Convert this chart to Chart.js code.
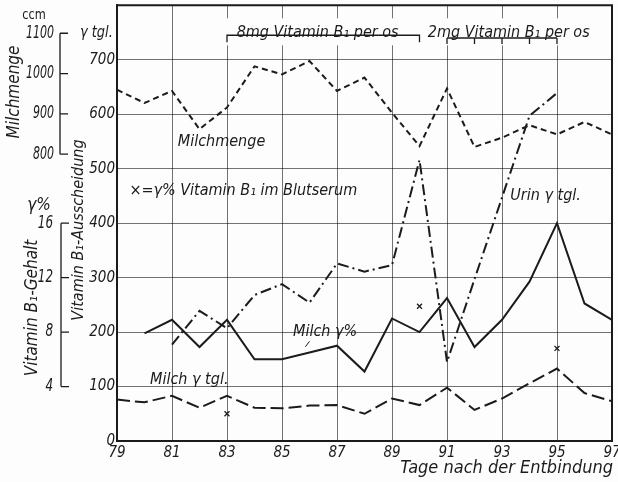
<!DOCTYPE html>
<html><head><meta charset="utf-8">
<script src="https://cdn.jsdelivr.net/npm/chart.js@4/dist/chart.umd.min.js"></script>
<style>html,body{margin:0;padding:0;background:#fff;}#wrap{width:618px;height:482px;position:relative;}</style>
</head><body><div id="wrap"><canvas id="c" width="618" height="482"></canvas></div>
<script>
// ---- data ----
const days = [79,80,81,82,83,84,85,86,87,88,89,90,91,92,93,94,95,96,97];
const milchmengeCcm = [960,927,957,862,916,1018,998,1031,957,990,903,820,963,818,841,872,849,880,849];
const urinGammaTgl = [null,null,177,239,207,268,288,254,326,311,323,516,145,297,447,597,639,null,null];
const milchGammaTgl = [76,71,83,61,83,61,60,65,66,50,78,66,98,57,78,106,133,88,73];
const milchGammaPct = [null,7.9,8.9,6.9,8.9,6.0,6.0,6.5,7.0,5.1,9.0,8.0,10.5,6.9,8.9,11.7,16.0,10.1,8.9];
const serumDays = [83,90,95];
const serumGammaPct = [2.0,9.9,6.8];
const xTickValues = [79,81,83,85,87,89,91,93,95,97];
const yTickValues = [0,100,200,300,400,500,600,700];
const ccmTickValues = [800,900,1000,1100];
const pctTickValues = [4,8,12,16];
const dose8 = [83,90];
const dose2 = [91,92,93,94,95];

const FONT = '"Liberation Sans Narrow","DejaVu Sans Condensed","Liberation Sans",sans-serif';
const INK = '#1b1b1b';
const pts = (ys) => days.map((d,i)=>({x:d,y:ys[i]}));

const deco = {
  id:'deco',
  beforeDraw(chart){
    const c=chart.ctx; c.save(); c.fillStyle='#fdfdfd'; c.fillRect(0,0,chart.width,chart.height); c.restore();
  },
  afterDraw(chart){
    const c=chart.ctx, a=chart.chartArea, sx=chart.scales.x, sy=chart.scales.y,
          sp=chart.scales.pct, sc=chart.scales.ccm;
    c.save();
    c.fillStyle=INK; c.strokeStyle=INK;
    const txt=(s,x,y,o={})=>{
      c.save();
      c.font=(o.italic===false?'':'italic ')+(o.size||16)+'px '+FONT;
      c.textAlign=o.align||'left'; c.textBaseline=o.base||'middle';
      c.translate(x,y); if(o.rot) c.rotate(o.rot);
      c.scale(o.sx||1,1);
      c.fillText(s,0,0); c.restore();
    };
    // frame top/right
    c.lineWidth=2;
    c.beginPath(); c.moveTo(a.left,a.top); c.lineTo(a.right,a.top); c.lineTo(a.right,a.bottom); c.stroke();
    // annotation area above brackets (white background)
    c.fillStyle='#fdfdfd';
    c.fillRect(sx.getPixelForValue(82.6), a.top+13, sx.getPixelForValue(96.4)-sx.getPixelForValue(82.6), 27);
    c.fillStyle=INK;
    txt('8mg Vitamin B\u2081 per os', sx.getPixelForValue(83.35), sy.getPixelForValue(749));
    txt('2mg Vitamin B\u2081 per os', sx.getPixelForValue(90.3), sy.getPixelForValue(749));
    // brackets
    c.lineWidth=1.3;
    let yb=sy.getPixelForValue(745);
    c.beginPath();
    c.moveTo(sx.getPixelForValue(dose8[0]),yb+7); c.lineTo(sx.getPixelForValue(dose8[0]),yb);
    c.lineTo(sx.getPixelForValue(dose8[1]),yb); c.lineTo(sx.getPixelForValue(dose8[1]),yb+7);
    c.stroke();
    yb=sy.getPixelForValue(740);
    c.beginPath();
    c.moveTo(sx.getPixelForValue(dose2[0]),yb); c.lineTo(sx.getPixelForValue(dose2[dose2.length-1]),yb);
    dose2.forEach(d=>{const x=sx.getPixelForValue(d); c.moveTo(x,yb); c.lineTo(x,yb+6);});
    c.stroke();
    // series labels
    txt('Milchmenge', sx.getPixelForValue(82.8), sy.getPixelForValue(549), {align:'center'});
    txt('\u00d7=\u03b3% Vitamin B\u2081 im Blutserum', sx.getPixelForValue(79.45), sy.getPixelForValue(459));
    txt('Urin \u03b3 tgl.', sx.getPixelForValue(93.3), sy.getPixelForValue(451));
    txt('Milch \u03b3%', sx.getPixelForValue(85.4), sy.getPixelForValue(200));
    txt('Milch \u03b3 tgl.', sx.getPixelForValue(80.2), sy.getPixelForValue(112));
    // leader for Milch γ%
    c.lineWidth=1;
    c.beginPath(); c.moveTo(sx.getPixelForValue(85.85), sy.getPixelForValue(173)); c.lineTo(sx.getPixelForValue(86.0), sy.getPixelForValue(183)); c.stroke();
    // x title
    txt('Tage nach der Entbindung', a.right+1, 468, {align:'right', size:18});
    // gamma tgl unit
    txt('\u03b3 tgl.', 80, 33, {sx:0.9});
    // ccm auxiliary axis
    const ax1=60;
    c.lineWidth=1.3;
    c.beginPath();
    c.moveTo(ax1, sc.getPixelForValue(1100)); c.lineTo(ax1, sc.getPixelForValue(800));
    ccmTickValues.forEach(v=>{const y=sc.getPixelForValue(v); c.moveTo(ax1,y); c.lineTo(ax1+8,y);});
    c.stroke();
    ccmTickValues.forEach(v=>txt(String(v), ax1-6, sc.getPixelForValue(v), {align:'right', size:17, sx:0.72}));
    txt('ccm', 34, 15, {align:'center', italic:false, size:14, sx:0.9});
    txt('Milchmenge', 15, 92, {align:'center', rot:-Math.PI/2, size:17});
    // gamma% auxiliary axis
    const ax2=61;
    c.beginPath();
    c.moveTo(ax2, sp.getPixelForValue(16)); c.lineTo(ax2, sp.getPixelForValue(4));
    pctTickValues.forEach(v=>{const y=sp.getPixelForValue(v); c.moveTo(ax2,y); c.lineTo(ax2+8,y);});
    c.stroke();
    pctTickValues.forEach(v=>txt(String(v), ax2-8, sp.getPixelForValue(v), {align:'right', size:17, sx:0.78}));
    txt('\u03b3%', 39, 206, {align:'center', size:17});
    txt('Vitamin B\u2081-Gehalt', 33, 308, {align:'center', rot:-Math.PI/2, size:17});
    txt('Vitamin B\u2081-Ausscheidung', 79, 230, {align:'center', rot:-Math.PI/2, size:16});
    c.restore();
  }
};

new Chart(document.getElementById('c'), {
  type:'line',
  data:{datasets:[
    {label:'Milchmenge', data:pts(milchmengeCcm), yAxisID:'ccm', borderColor:INK, borderWidth:2, borderDash:[6,4], pointRadius:0, fill:false, tension:0},
    {label:'Urin γ tgl.', data:pts(urinGammaTgl), yAxisID:'y', borderColor:INK, borderWidth:2, borderDash:[11,4,2,4], pointRadius:0, fill:false, tension:0, spanGaps:false},
    {label:'Milch γ%', data:pts(milchGammaPct), yAxisID:'pct', borderColor:INK, borderWidth:2, pointRadius:0, fill:false, tension:0},
    {label:'Milch γ tgl.', data:pts(milchGammaTgl), yAxisID:'y', borderColor:INK, borderWidth:2, borderDash:[13,5], pointRadius:0, fill:false, tension:0},
    {label:'Serum', type:'scatter', data:serumDays.map((d,i)=>({x:d,y:serumGammaPct[i]})), yAxisID:'pct', showLine:false,
     pointStyle:'crossRot', pointRadius:3.5, borderColor:INK, borderWidth:1.3, backgroundColor:INK}
  ]},
  options:{
    responsive:false, animation:false, devicePixelRatio:1,
    layout:{padding:{left:0,right:6,top:5,bottom:0}},
    plugins:{legend:{display:false}, tooltip:{enabled:false}},
    scales:{
      x:{type:'linear', min:79, max:97,
        afterBuildTicks(s){s.ticks=xTickValues.map(v=>({value:v}));},
        afterFit(s){s.height=41; s.paddingLeft=0; s.paddingRight=0;},
        grid:{color:'rgba(0,0,0,0.55)', lineWidth:1, drawTicks:false},
        border:{display:true, color:INK, width:2},
        ticks:{padding:3, color:INK, maxRotation:0, autoSkip:false, font:{family:FONT, size:15, style:'italic'}, callback:v=>String(v)}
      },
      y:{type:'linear', position:'left', min:0, max:800,
        afterBuildTicks(s){s.ticks=yTickValues.concat([800]).map(v=>({value:v}));},
        afterFit(s){s.width=117; s.paddingTop=0; s.paddingBottom=0;},
        grid:{color:'rgba(0,0,0,0.55)', lineWidth:1, drawTicks:false},
        border:{display:true, color:INK, width:2},
        ticks:{padding:2, color:INK, autoSkip:false, font:{family:FONT, size:15, style:'italic'}, callback:v=>(v>=800?'':String(v))}
      },
      pct:{type:'linear', display:false, min:0, max:32},
      ccm:{type:'linear', display:false, min:88.4, max:1169.4}
    }
  },
  plugins:[deco]
});
</script></body></html>
